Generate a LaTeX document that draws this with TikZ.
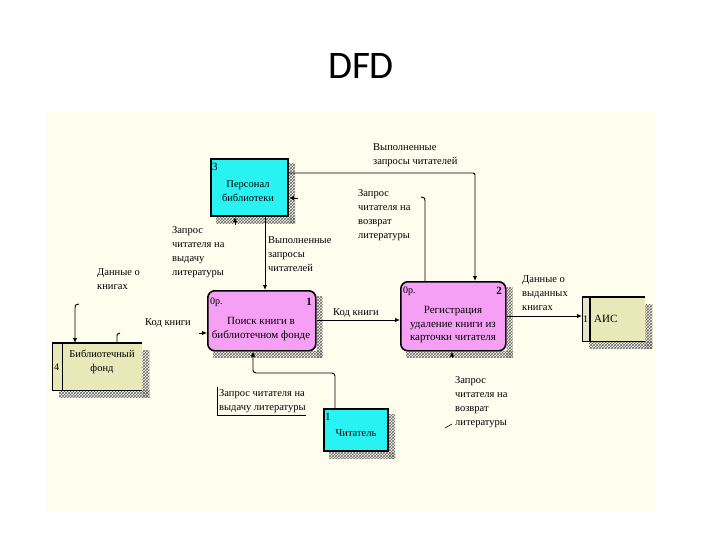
\documentclass[tikz,border=0pt]{standalone}
\usepackage{fontspec}
\setmainfont{Liberation Serif}
\newfontfamily\titlefont{Carlito}
\usetikzlibrary{arrows.meta,calc,patterns}
\definecolor{bgcream}{RGB}{255,253,238}
\definecolor{entcyan}{RGB}{40,242,242}
\definecolor{procpink}{RGB}{245,160,245}
\definecolor{storekhaki}{RGB}{232,232,184}
\definecolor{compkhaki}{RGB}{228,228,204}
\newcommand\hshadow[2]{%
  \fill[shade] ($(#1.north east)+(0,#2)$) rectangle ($(#1.south east)+(#2,#2)$);
  \fill[shade] ($(#1.south west)+(#2,0)$) rectangle ($(#1.south east)+(#2,#2)$);}
\begin{document}
\begin{tikzpicture}[x=1pt,y=-1pt,
  conn/.style={line width=0.9pt},
  arr/.style={conn,-{Latex[length=5pt,width=4.5pt]}},
  entity/.style={draw, fill=entcyan, line width=2.2pt, inner sep=0pt, anchor=north west},
  proc/.style={draw, fill=procpink, line width=1.6pt, rounded corners=7pt, inner sep=0pt, anchor=north west},
  storefill/.style={fill=storekhaki, inner sep=0pt, anchor=north west},
  lbl/.style={anchor=north west, inner sep=0pt, align=left, font=\fontsize{10.5}{14}\selectfont},
  btxt/.style={inner sep=0pt, align=center, font=\fontsize{10.5}{14}\selectfont},
  num/.style={inner sep=0pt, anchor=west, font=\fontsize{10}{10}\selectfont},
  bnum/.style={inner sep=0pt, anchor=east, font=\bfseries\fontsize{11}{11}\selectfont},
  shade/.style={pattern=crosshatch, pattern color=black!60},
]
\useasboundingbox (0,0) rectangle (720,540);
\fill[bgcream] (47,112) rectangle (656,512);
\node[font=\titlefont\fontsize{39}{39}\selectfont, inner sep=0pt] (title) at (361,66) {DFD};

% boxes
\node[entity, minimum width=77, minimum height=57] (pers) at (210,158) {};
\node[proc, minimum width=108, minimum height=60] (p1) at (207,290) {};
\node[proc, minimum width=105, minimum height=69] (p2) at (400,281) {};
\node[storefill, minimum width=90, minimum height=47] (store) at (52,343) {};
\node[storefill, minimum width=63, minimum height=44] (ais) at (582,297) {};
\node[entity, minimum width=64, minimum height=42] (reader) at (323,408) {};

% shadows
\hshadow{pers}{6}
\hshadow{p1}{6}
\hshadow{p2}{6}
\hshadow{store}{7}
\hshadow{ais}{7}
\hshadow{reader}{6}

% data store details
\coordinate (sc) at (62,0);
\draw[line width=1.6pt] (store.north west) -- (store.north east);
\draw[line width=1.6pt] (store.south west) -- (store.south east);
\draw[line width=0.9pt] (store.north west) -- (store.south west);
\draw[line width=0.9pt] (store.north -| sc) -- (store.south -| sc);
\coordinate (ac) at (590,0);
\fill[compkhaki] (ais.north west) rectangle (ais.south -| ac);
\draw[line width=1.6pt] (ais.north west) -- (ais.north east);
\draw[line width=1.6pt] (ais.south west) -- (ais.south east);
\draw[line width=0.9pt] (ais.north west) -- (ais.south west);
\draw[line width=1.4pt] (ais.north -| ac) -- (ais.south -| ac);

% box texts
\node[num, font=\fontsize{11}{11}\selectfont] (pers-n) at (212,167) {3};
\node[btxt] (pers-t) at (248,191) {Персонал\\библиотеки};
\node[num] (p1-n0) at (210,302) {0р.};
\node[bnum] (p1-n) at (312,302) {1};
\node[btxt, font=\fontsize{11}{14}\selectfont] (p1-t) at (261,329) {Поиск книги в\\библиотечном фонде};
\node[num] (p2-n0) at (403,291) {0р.};
\node[bnum] (p2-n) at (502,291) {2};
\node[btxt, font=\fontsize{11}{13.5}\selectfont] (p2-t) at (453,325) {Регистрация\\удаление книги из\\карточки читателя};
\node[num] (st-n) at (54,367) {4};
\node[btxt] (st-t) at (102,362) {Библиотечный\\фонд};
\node[num] (ais-n) at (583,319) {1};
\node[num, font=\fontsize{11}{11}\selectfont] (ais-t) at (594,319) {АИС};
\node[num, font=\fontsize{11}{11}\selectfont] (rd-n) at (325,417) {1};
\node[btxt] (rd-t) at (356,433) {Читатель};

% labels
\node[lbl] (l1) at (373,143) {Выполненные\\запросы читателей};
\node[lbl] (l2) at (358,189) {Запрос\\читателя на\\возврат\\литературы};
\node[lbl] (l3) at (172,226) {Запрос\\читателя на\\выдачу\\литературы};
\node[lbl] (l4) at (268,236) {Выполненные\\запросы\\читателей};
\node[lbl] (l5) at (97,268) {Данные о\\книгах};
\node[lbl] (l6) at (145,318) {Код книги};
\node[lbl] (l7) at (333,308) {Код книги};
\node[lbl] (l8) at (522,275) {Данные о\\выданных\\книгах};
\node[lbl] (l9) at (455,376) {Запрос\\читателя на\\возврат\\литературы};
\node[lbl] (l10) at (219,389) {Запрос читателя на\\выдачу литературы};
\draw[line width=0.6pt] ($(l10.north west)+(-2,-2)$) |- ($(l10.south east)+(0,3)$);

% connectors
\coordinate (xa) at (265,0);
\draw[arr] (pers.south -| xa) -- (p1.north -| xa);
\coordinate (kb) at (475,173);
\draw[arr, rounded corners=2pt] (pers.east |- kb) -- (kb) -- (p2.north -| kb);
\coordinate (kc) at (425,201);
\draw[conn] (p2.north -| kc) -- (kc) .. controls ($(kc)+(0,-3)$) .. ($(kc)+(-4,-4)$);
\coordinate (kd) at (235,225);
\draw[arr] (kd) -- (pers.south -| kd);
\coordinate (ke) at (298,198);
\draw[arr] (ke) -- (pers.east |- ke);
\coordinate (kf) at (199,333);
\draw[arr] (kf) -- (p1.west |- kf);
\coordinate (kg) at (0,320);
\draw[arr] (p1.east |- kg) -- (p2.west |- kg);
\coordinate (kh) at (0,316);
\draw[arr] (p2.east |- kh) -- (ais.west |- kh);
\coordinate (ki1) at (335,373);
\coordinate (ki2) at (253,373);
\draw[arr, rounded corners=3pt] (reader.north -| ki1) -- (ki1) -- (ki2) -- (p1.south -| ki2);
\coordinate (kj) at (452,358);
\draw[arr] (kj) -- (p2.south -| kj);
\coordinate (kk) at (75,308);
\draw[arr] ($(kk)+(4,-4)$) .. controls ($(kk)+(0,-3)$) .. (kk) -- (store.north -| kk);
\coordinate (kl) at (117,336);
\draw[conn] ($(kl)+(3,-3)$) .. controls ($(kl)+(0,-2)$) .. (kl) -- (store.north -| kl);
\coordinate (km) at (445,428);
\draw[line width=0.6pt] (km) -- ++(7,-4);
\end{tikzpicture}
\end{document}
